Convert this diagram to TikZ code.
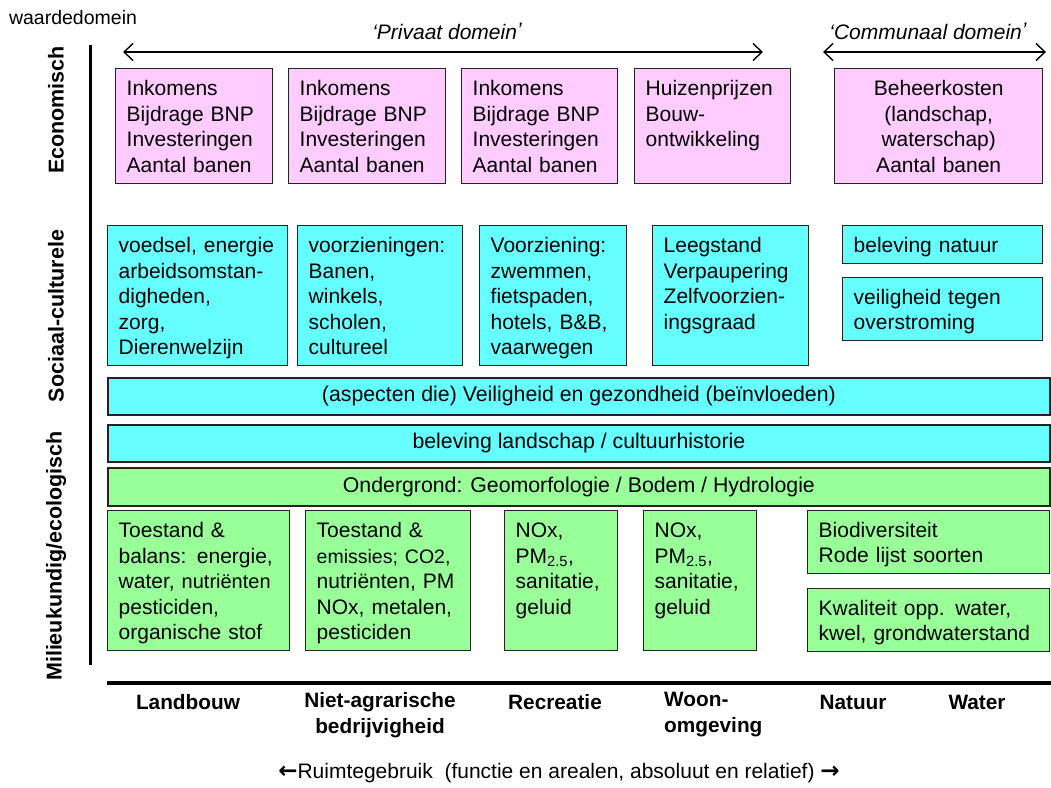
\documentclass[tikz,border=0pt]{standalone}
\usepackage{fontspec}
\setmainfont{Liberation Sans}
\newfontfamily\symfont{DejaVu Sans}
\usetikzlibrary{arrows.meta}
\definecolor{pinkfill}{RGB}{255,204,255}
\definecolor{cyanfill}{RGB}{102,255,255}
\definecolor{greenfill}{RGB}{153,255,153}
\definecolor{edgecol}{RGB}{35,35,35}
\begin{document}
\begin{tikzpicture}[x=1pt,y=-1pt,
  box/.style={draw=edgecol, line width=1.4pt, inner xsep=11pt, inner ysep=0pt,
    anchor=north west, align=left,
    font=\fontsize{21}{25.5}\selectfont,
    execute at begin node={\rule{0pt}{23.5pt}}, execute at end node=\strut},
  pinkbox/.style={box, fill=pinkfill},
  cyanbox/.style={box, fill=cyanfill},
  greenbox/.style={box, fill=greenfill},
  band/.style={draw=edgecol, line width=1.8pt, inner sep=0pt, anchor=north west,
    minimum width=942pt, align=center, font=\fontsize{21.3}{24}\selectfont},
  vlab/.style={rotate=90, font=\fontsize{21.5}{25}\selectfont\bfseries, inner sep=0pt},
  xlab/.style={font=\fontsize{20.8}{26}\selectfont\bfseries, align=center, inner sep=0pt},
  axisline/.style={line width=3pt, line cap=butt},
  domarrow/.style={line width=1.4pt, {Straight Barb[length=9pt,width=17pt]}-{Straight Barb[length=9pt,width=17pt]}}
]
\useasboundingbox (0,0) rectangle (1051,787);

% header
\node[font=\fontsize{19.5}{22}\selectfont, inner sep=0pt] (wd) at (73,18) {waardedomein};
\node[font=\fontsize{21}{22}\selectfont\itshape, inner sep=0pt] (pd) at (447,31) {‘Privaat domein\raisebox{2pt}{’}};
\node[font=\fontsize{21}{22}\selectfont\itshape, inner sep=0pt] (cd) at (928,31) {‘Communaal domein\raisebox{2pt}{’}};
\coordinate (pa1) at (123,52);
\coordinate (pa2) at (763,52);
\coordinate (ca1) at (823,52);
\coordinate (ca2) at (1046,52);
\draw[domarrow] (pa1) -- (pa2);
\draw[domarrow] (ca1) -- (ca2);

% axes
\coordinate (ya) at (90,45);
\coordinate (yb) at (90,665);
\draw[axisline] (ya) -- (yb);
\coordinate (xa) at (107,683);
\coordinate (xb) at (1051,683);
\draw[line width=4pt] (xa) -- (xb);

% vertical labels
\node[vlab] (le) at (56,110) {Economisch};
\node[vlab] (ls) at (56,316) {Sociaal-culturele};
\node[vlab] (lm) at (56,556) {Milieukundig/ecologisch};

% economic row
\node[pinkbox, minimum width=157pt, minimum height=115pt, text width=135pt] (p1) at (115,68)
  {Inkomens\\Bijdrage BNP\\Investeringen\\Aantal banen};
\node[pinkbox, minimum width=157pt, minimum height=115pt, text width=135pt] (p2) at (288,68)
  {Inkomens\\Bijdrage BNP\\Investeringen\\Aantal banen};
\node[pinkbox, minimum width=156pt, minimum height=115pt, text width=134pt] (p3) at (461,68)
  {Inkomens\\Bijdrage BNP\\Investeringen\\Aantal banen};
\node[pinkbox, minimum width=156pt, minimum height=115pt, text width=134pt] (p4) at (634,68)
  {Huizenprijzen\\Bouw-\\ontwikkeling\\\mbox{}};
\node[pinkbox, minimum width=208pt, minimum height=115pt, text width=186pt, align=center] (p5) at (834,68)
  {Beheerkosten\\(landschap,\\waterschap)\\Aantal banen};

% social row
\node[cyanbox, minimum width=180pt, minimum height=140pt, text width=158pt] (c1) at (107,225)
  {voedsel, energie\\arbeidsomstan-\\digheden,\\zorg,\\Dierenwelzijn};
\node[cyanbox, minimum width=165pt, minimum height=140pt, text width=143pt] (c2) at (297,225)
  {voorzieningen:\\Banen,\\winkels,\\scholen,\\cultureel};
\node[cyanbox, minimum width=147pt, minimum height=140pt, text width=125pt] (c3) at (479,225)
  {Voorziening:\\zwemmen,\\fietspaden,\\hotels, B\&B,\\vaarwegen};
\node[cyanbox, minimum width=156pt, minimum height=140pt, text width=134pt] (c4) at (652,225)
  {Leegstand\\Verpaupering\\Zelfvoorzien-\\ingsgraad\\\mbox{}};
\node[cyanbox, minimum width=200pt, minimum height=38pt, text width=178pt] (c5a) at (842,225)
  {beleving natuur};
\node[cyanbox, minimum width=200pt, minimum height=63pt, text width=178pt] (c5b) at (842,277)
  {veiligheid tegen\\overstroming};

% bands
\node[band, fill=cyanfill, minimum height=37pt] (b1) at (107,377)
  {(aspecten die) Veiligheid en gezondheid (beïnvloeden)};
\node[band, fill=cyanfill, minimum height=37pt] (b2) at (107,424)
  {beleving landschap / cultuurhistorie};
\node[band, fill=greenfill, minimum height=38pt] (b3) at (107,467)
  {Ondergrond: Geomorfologie / Bodem / Hydrologie};

% environmental row
\node[greenbox, minimum width=182pt, minimum height=140pt, text width=160pt] (g1) at (107,510)
  {Toestand \&\\balans: energie,\\water, {\fontsize{20}{25.5}\selectfont nutriënten}\\pesticiden,\\organische stof};
\node[greenbox, minimum width=165pt, minimum height=140pt, text width=143pt] (g2) at (305,510)
  {Toestand \&\\{\fontsize{19.5}{25.5}\selectfont emissies; CO2,}\\nutriënten, PM\\NOx, metalen,\\pesticiden};
\node[greenbox, minimum width=113pt, minimum height=140pt, text width=91pt] (g3) at (504,510)
  {NOx,\\PM\textsubscript{2.5},\\sanitatie,\\geluid\\\mbox{}};
\node[greenbox, minimum width=113pt, minimum height=140pt, text width=91pt] (g4) at (643,510)
  {NOx,\\PM\textsubscript{2.5},\\sanitatie,\\geluid\\\mbox{}};
\node[greenbox, minimum width=242pt, minimum height=63pt, text width=220pt] (g5a) at (807,510)
  {Biodiversiteit\\Rode lijst soorten};
\node[greenbox, minimum width=242pt, minimum height=63pt, text width=220pt] (g5b) at (807,588)
  {Kwaliteit opp. water,\\kwel, grondwaterstand};

% x labels
\node[xlab] (x1) at (188,702) {Landbouw};
\node[xlab] (x2) at (380,715) {Niet-agrarische\\bedrijvigheid};
\node[xlab] (x3) at (555,702) {Recreatie};
\node[xlab, align=left, anchor=west] (x4) at (664,715) {Woon-\\omgeving};
\node[xlab] (x5) at (853,702) {Natuur};
\node[xlab] (x6) at (977,702) {Water};

% caption
\node[font=\fontsize{21}{24}\selectfont, inner sep=0pt] (cap) at (559,773)
  {{\symfont\bfseries\fontsize{23}{24}\selectfont ←}Ruimtegebruik\ \ (functie en arealen, absoluut en relatief) {\symfont\bfseries\fontsize{23}{24}\selectfont →}};
\end{tikzpicture}
\end{document}
